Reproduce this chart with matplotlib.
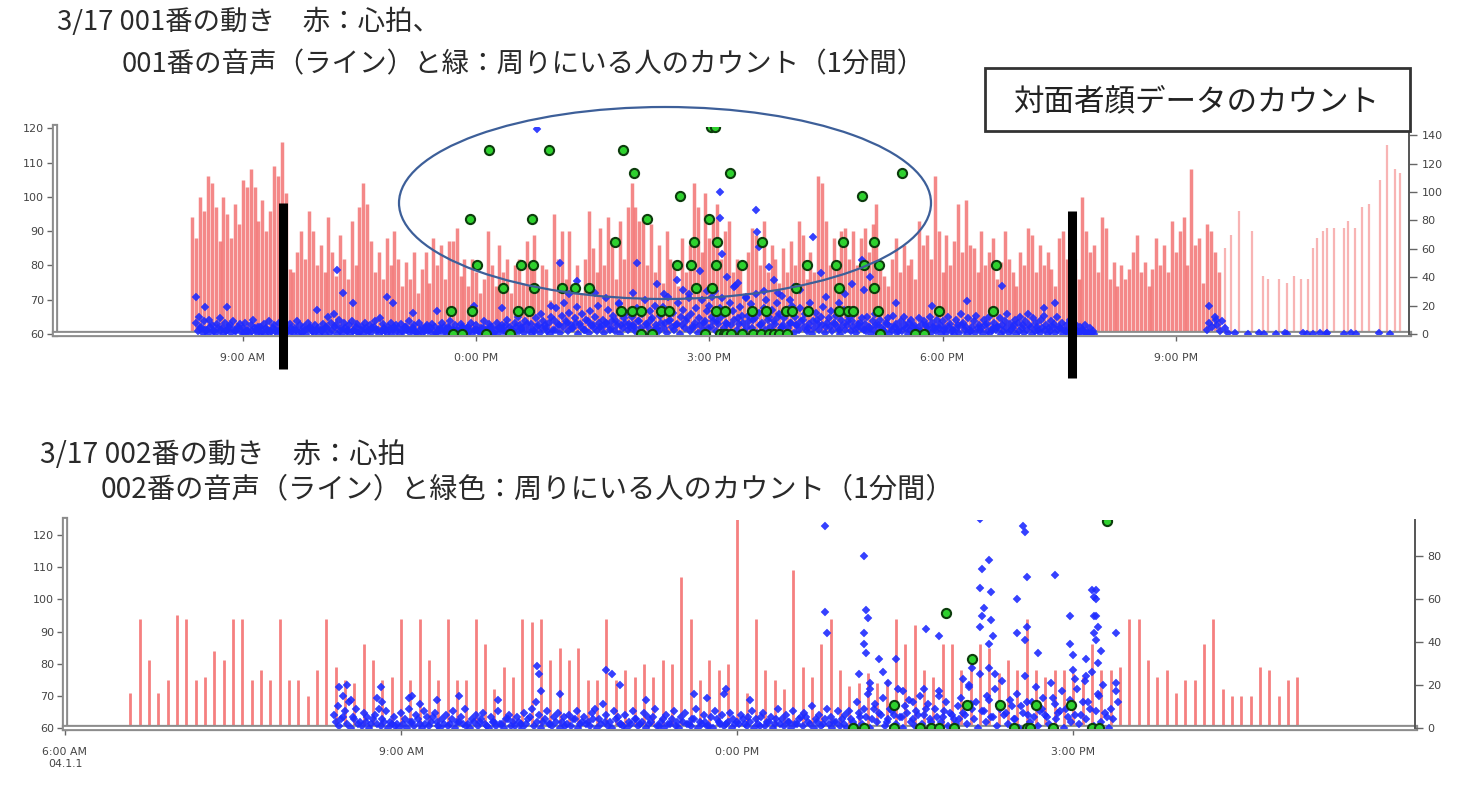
import matplotlib
matplotlib.use("Agg")
import matplotlib.pyplot as plt
import matplotlib.patheffects as pe
import matplotlib.transforms as mtransforms
from matplotlib.patches import Ellipse, Rectangle

plt.rcParams['font.family'] = ['Noto Sans CJK JP', 'DejaVu Sans']

# ---------------- data: chart 1 (001) ----------------
TITLE1_L1 = "3/17 001番の動き　赤：心拍、"
TITLE1_L2 = "001番の音声（ライン）と緑：周りにいる人のカウント（1分間）"
BOX_TEXT = "対面者顔データのカウント"

X1_RANGE = ("06:35", "24:00")
X1_TICKS = ["09:00", "12:00", "15:00", "18:00", "21:00"]
X1_TICKLABELS = ["9:00 AM", "0:00 PM", "3:00 PM", "6:00 PM", "9:00 PM"]
Y1_LEFT_TICKS = [60, 70, 80, 90, 100, 110, 120]
Y1_RIGHT_TICKS = [0, 20, 40, 60, 80, 100, 120, 140]

# heart rate, dense part (one bar every 3 minutes from 08:21)
HR1_START = "08:21"
HR1_STEP_MIN = 3
HR1 = [94, 88, 100, 96, 106, 104, 97, 87, 100, 95, 88, 98, 92, 105, 103, 108, 103, 93, 99, 90,
       96, 109, 106, 116, 101, 79, 78, 84, 90, 82, 96, 90, 80, 86, 78, 94, 84, 77, 89, 82,
       76, 93, 80, 97, 104, 98, 87, 78, 84, 76, 88, 80, 90, 82, 74, 81, 76, 84, 72, 79,
       84, 75, 88, 80, 86, 76, 87, 87, 91, 77, 82, 74, 82, 78, 72, 76, 90, 80, 74, 86,
       78, 82, 72, 80, 82, 75, 87, 80, 89, 74, 80, 79, 70, 95, 82, 90, 76, 90, 74, 80,
       72, 82, 96, 85, 78, 91, 80, 94, 88, 76, 93, 82, 97, 104, 97, 93, 94, 80, 92, 78,
       86, 75, 90, 82, 80, 74, 88, 78, 86, 104, 97, 84, 101, 88, 93, 98, 82, 90, 93, 78,
       82, 79, 72, 84, 91, 89, 80, 93, 78, 86, 82, 75, 85, 78, 87, 80, 93, 89, 76, 84,
       78, 106, 104, 93, 80, 88, 79, 90, 91, 82, 90, 80, 88, 91, 84, 92, 98, 80, 77, 74,
       82, 88, 78, 86, 80, 82, 76, 93, 86, 89, 82, 106, 90, 78, 89, 80, 87, 98, 84, 99,
       86, 85, 78, 90, 80, 84, 88, 76, 81, 90, 82, 78, 74, 84, 80, 91, 89, 78, 86, 80,
       84, 79, 74, 88, 90, 82, 78, 82, 76, 100, 90, 84, 86, 78, 94, 91, 76, 81, 74, 80,
       76, 79, 84, 89, 78, 81, 74, 79, 88, 80, 86, 78, 93, 84, 90, 94, 80, 108, 86, 88,
       75, 92, 90, 84, 78]

# heart rate, sparse late part
HR1_LATE_T = ["21:38", "21:43", "21:49", "21:59", "22:07", "22:11", "22:20", "22:26", "22:31",
              "22:37", "22:42", "22:46", "22:49", "22:54", "22:57", "23:02", "23:10", "23:13",
              "23:18", "23:24", "23:29", "23:38", "23:43", "23:49", "23:53"]
HR1_LATE = [85, 89, 96, 90, 77, 76, 76, 75, 77, 76, 76, 85, 88, 90, 91, 91, 91, 93, 91, 97,
            98, 105, 115, 108, 107]

# voice (blue), dense band: samples every 2 minutes from 08:24 ...
VOICE1_START = "08:24"
VOICE1_STEP_MIN = 2
VOICE1 = [8, 12, 5, 9, 3, 10, 6, 2, 7, 11, 4, 8, 3, 6, 9, 2, 5, 7,
          4, 8, 2, 6, 10, 3, 5, 1, 7, 4, 9, 2, 6, 3, 8, 1, 5, 3, 7, 2, 4, 9, 6, 1, 3, 8, 5, 2, 6, 4,
          3, 7, 5, 12, 8, 14, 6, 10, 4, 8, 2, 6, 9, 3, 7, 1, 5, 8, 2, 6, 4, 9, 3, 11, 7, 2, 5, 8, 3, 6,
          4, 7, 2, 5, 9, 3, 6, 1, 8, 4, 2, 6, 3, 7, 5, 1, 4, 8, 2, 5, 9, 3, 6, 2, 7, 4, 1, 5, 8, 3,
          6, 2, 4, 9, 3, 7, 5, 1, 8, 4, 6, 2, 10, 5, 3, 8, 12, 6, 4, 9, 15, 7, 3, 11, 6, 14, 9, 4, 8, 12,
          10, 18, 6, 13, 22, 8, 15, 4, 11, 19, 7, 14, 3, 9, 16, 6, 12, 20, 5, 10, 8, 17, 4, 13, 9, 21, 6, 11, 15, 7,
          12, 5, 18, 9, 14, 24, 7, 16, 11, 20, 4, 13, 19, 8, 26, 10, 15, 6, 22, 12, 17, 9, 28, 14, 5, 18, 11, 24, 8, 16,
          20, 12, 30, 9, 18, 25, 14, 7, 22, 16, 34, 11, 19, 8, 26, 13, 21, 10, 28, 15, 6, 18, 24, 12, 17, 9, 22, 14, 5, 11,
          16, 8, 20, 12, 6, 18, 10, 14, 4, 22, 9, 15, 7, 12, 19, 5, 11, 16, 8, 13, 3, 10, 17, 6, 12, 9, 14, 4, 8, 11,
          7, 12, 4, 9, 14, 6, 10, 3, 8, 11, 5, 13, 7, 2, 9, 12, 4, 8, 10, 6, 3, 11, 7, 9, 5, 12, 8, 4, 10, 6,
          9, 4, 12, 7, 3, 10, 6, 14, 8, 5, 11, 2, 9, 13, 6, 4, 10, 7, 12, 3, 8, 5, 11, 6, 9, 14, 7, 4, 10, 8,
          12, 6, 9, 14, 5, 11, 8, 3, 10, 13, 6, 4, 9, 7, 12, 5, 8, 3, 6, 10, 4, 7, 2, 5, 3, 6, 1, 4, 2]
# ... and the in-between samples (every 2 minutes from 08:25)
VOICE1_LOW_START = "08:25"
VOICE1_LOW = [2, 4, 1, 3, 0, 5, 2, 1, 4, 3, 0, 2, 5, 1, 3, 2, 4, 1,
              1, 3, 0, 2, 4, 1, 5, 2, 0, 3, 1, 4, 2, 0, 3, 5, 1, 2, 4, 0, 3, 1, 2, 5, 0, 4, 2, 1, 3, 0,
              2, 0, 4, 1, 3, 5, 0, 2, 1, 4, 3, 0, 2, 5, 1, 3, 0, 4, 2, 1, 5, 3, 0, 2, 4, 1, 3, 0, 5, 2,
              0, 2, 5, 3, 1, 4, 2, 0, 3, 1, 5, 2, 4, 0, 1, 3, 2, 5, 0, 4, 1, 2, 3, 0, 5, 1, 4, 2, 0, 3,
              3, 1, 4, 0, 2, 5, 1, 3, 0, 4, 2, 6, 1, 3, 0, 5, 2, 4, 1, 7, 3, 0, 2, 5, 1, 4, 6, 2, 0, 3,
              3, 7, 1, 5, 9, 2, 6, 4, 8, 0, 5, 3, 10, 1, 6, 4, 2, 8, 5, 1, 7, 3, 9, 2, 6, 0, 4, 8, 3, 5,
              6, 2, 9, 4, 1, 7, 5, 10, 3, 6, 2, 8, 4, 1, 9, 5, 3, 7, 0, 6, 4, 11, 2, 5, 8, 1, 6, 3, 9, 4,
              5, 9, 2, 7, 12, 4, 8, 1, 6, 10, 3, 7, 13, 2, 5, 9, 4, 11, 1, 6, 8, 3, 10, 5, 2, 7, 12, 4, 6, 1,
              4, 8, 1, 6, 3, 9, 5, 2, 7, 0, 4, 10, 3, 6, 1, 8, 5, 2, 7, 4, 0, 6, 3, 9, 2, 5, 1, 7, 4, 3,
              2, 5, 0, 3, 6, 1, 4, 2, 7, 0, 3, 5, 1, 4, 2, 6, 0, 3, 5, 1, 4, 2, 0, 6, 3, 1, 5, 2, 4, 0,
              3, 1, 5, 2, 0, 4, 1, 6, 3, 0, 2, 5, 1, 4, 3, 0, 6, 2, 1, 4, 3, 5, 0, 2, 4, 1, 3, 6, 0, 2,
              4, 1, 3, 6, 0, 2, 5, 1, 4, 3, 0, 2, 5, 1, 3, 4, 0, 2, 1, 3, 0, 2, 1, 0, 2, 1, 0, 1, 0]
VOICE1B_START = "21:24"
VOICE1B = [3, 8, 5, 12, 6, 2, 9, 4, 1]
VOICE1_OUT_T = ["08:24", "08:31", "08:48", "09:57", "10:13", "10:17", "10:25", "10:51", "10:56", "11:11",
                "11:30", "11:58", "12:20", "12:47", "12:58", "13:05", "13:12", "13:18", "13:32", "13:40",
                "13:50", "14:01", "14:04", "14:20", "14:25", "14:35", "14:40", "14:44", "14:53", "14:58",
                "15:02", "15:08", "15:08", "15:10", "15:14", "15:19", "15:22", "15:28", "15:36", "15:37",
                "15:38", "15:42", "15:46", "15:50", "15:53", "15:56", "16:02", "16:05", "16:10", "16:16",
                "16:20", "16:26", "16:30", "16:40", "16:45", "16:50", "16:58", "16:59", "17:04", "17:24",
                "17:52", "18:19", "18:46", "19:18", "19:27", "21:26", "21:31"]
VOICE1_OUT = [26, 19, 19, 17, 45, 29, 22, 26, 22, 15,
              16, 20, 18, 144, 20, 50, 28, 37, 29, 25,
              22, 29, 50, 35, 28, 38, 31, 25, 44, 30,
              26, 100, 82, 56, 40, 33, 36, 25, 87, 72,
              61, 30, 47, 38, 29, 27, 24, 33, 31, 47,
              68, 43, 26, 22, 28, 35, 52, 31, 40, 22,
              20, 23, 34, 18, 22, 20, 10]
VOICE1_LATE_T = ["21:46", "21:56", "22:04", "22:08", "22:17", "22:24", "22:26", "22:38", "22:41",
                 "22:46", "22:51", "22:56", "22:57", "23:10", "23:15", "23:19", "23:37", "23:45"]
VOICE1_LATE = [1, 0, 1, 0, 0, 1, 0, 1, 0, 0, 1, 0, 1, 0, 1, 0, 1, 0]

# green: number of people around (per minute)
FACE1_T = ["11:42", "11:49", "12:08", "12:26", "14:07", "14:16", "14:57", "15:08", "15:11", "15:13",
           "15:17", "15:25", "15:34", "15:40", "15:46", "15:50", "15:54", "16:00", "17:12", "17:39", "17:46",
           "11:41", "11:57", "12:32", "12:41", "13:52", "14:00", "14:07", "14:23", "14:29", "15:05", "15:12",
           "15:33", "15:44", "15:59", "16:04", "16:16", "16:40", "16:47", "16:51", "17:10", "17:57", "18:39",
           "12:21", "12:45", "13:06", "13:16", "13:27", "14:50", "15:02", "16:07", "16:40", "17:07",
           "12:01", "12:35", "12:44", "14:35", "14:46", "15:05", "15:25", "16:15", "16:38", "16:59", "17:11", "18:41",
           "13:47", "14:48", "15:06", "15:41", "16:43", "17:07",
           "11:55", "12:43", "14:12", "15:00",
           "14:37", "16:58",
           "14:02", "15:16", "17:29",
           "12:10", "12:56", "13:53",
           "15:01", "15:04"]
FACE1 = [0] * 21 + [1] * 22 + [2] * 10 + [3] * 12 + [4] * 6 + [5] * 4 + [6] * 2 + [7] * 3 + [8] * 3 + [9] * 2

MARK1_T = ["09:31", "19:40"]

# ---------------- data: chart 2 (002) ----------------
TITLE2_L1 = "3/17 002番の動き　赤：心拍"
TITLE2_L2 = "002番の音声（ライン）と緑色：周りにいる人のカウント（1分間）"

X2_RANGE = ("06:00", "18:03")
X2_TICKS = ["06:00", "09:00", "12:00", "15:00"]
X2_TICKLABELS = ["6:00 AM\n04.1.1", "9:00 AM", "0:00 PM", "3:00 PM"]
Y2_LEFT_TICKS = [60, 70, 80, 90, 100, 110, 120]
Y2_RIGHT_TICKS = [0, 20, 40, 60, 80]

HR2_START = "06:35"
HR2_STEP_MIN = 5
HR2 = [71, 94, 81, 71, 75, 95, 94, 75, 76, 84, 81, 94, 94, 75, 78, 75, 94, 75, 75, 70,
       78, 94, 79, 75, 74, 86, 81, 75, 76, 94, 75, 94, 81, 75, 94, 75, 75, 94, 86, 72,
       79, 76, 94, 93, 94, 81, 85, 81, 85, 75, 75, 94, 75, 78, 76, 80, 76, 81, 80, 107,
       94, 75, 81, 78, 80, 125,
       71, 94, 78, 75, 72, 109, 79, 76, 86, 94, 78, 73, 74, 77, 74, 75, 94, 86, 92, 78,
       76, 86, 86, 78, 80, 86, 85, 77, 81, 78, 94, 78, 76, 78, 78, 77, 76, 86, 78, 78,
       79, 94,
       94, 81, 76, 78, 71, 75, 75, 86, 94, 72, 70, 70, 70, 79, 78, 70, 75, 76]

VOICE2_START = "08:24"
VOICE2_STEP_MIN = 2
VOICE2 = [6, 10, 4, 8, 12, 5, 9, 3, 7, 5, 2, 6, 9, 4, 8, 3, 5, 2,
          7, 4, 9, 3, 6, 2, 8, 5, 3, 7, 1, 4, 6, 2, 8, 3, 5, 9, 2, 4, 6, 3, 7, 1, 5, 3, 8, 2, 4, 6,
          3, 5, 2, 7, 4, 9, 12, 6, 3, 8, 2, 5, 7, 3, 1, 6, 4, 8, 2, 5, 3, 7, 9, 4, 11, 6, 3, 8, 5, 2,
          6, 3, 8, 4, 2, 7, 5, 3, 9, 1, 4, 6, 2, 8, 3, 5, 7, 2, 4, 9, 3, 6, 1, 5, 8, 3, 6, 2, 7, 4,
          3, 6, 2, 5, 8, 4, 1, 7, 3, 5, 2, 9, 4, 6, 3, 8, 2, 5, 7, 3, 10, 4, 6, 2, 9, 5, 3, 8, 4, 6,
          8, 3, 12, 5, 9, 16, 4, 11, 7, 14, 3, 9, 6, 18, 5, 10, 13, 4, 8, 15, 6, 11, 3, 9, 17, 5, 12, 7, 4, 10,
          14, 6, 20, 9, 12, 25, 8, 15, 5, 18, 11, 22, 7, 13, 4, 16, 10, 24, 6, 12, 19, 8, 14, 5, 21, 11, 7, 17, 9, 13,
          10, 18, 6, 22, 12, 26, 8, 15, 20, 5, 9]
VOICE2_LOW_START = "08:25"
VOICE2_LOW = [3, 1, 5, 2, 0, 4, 2, 1, 3, 0, 4, 2, 1, 3, 0, 2, 1, 0,
              2, 0, 3, 1, 4, 0, 2, 1, 5, 3, 0, 2, 1, 4, 0, 3, 2, 1, 0, 3, 1, 4, 2, 0, 3, 1, 2, 0, 4, 1,
              1, 3, 0, 2, 5, 1, 3, 0, 4, 2, 1, 3, 0, 5, 2, 1, 4, 0, 3, 2, 1, 4, 0, 2, 3, 1, 0, 4, 2, 1,
              0, 2, 4, 1, 3, 0, 2, 5, 1, 3, 0, 2, 4, 1, 0, 3, 2, 1, 4, 0, 2, 3, 1, 0, 4, 2, 1, 3, 0, 2,
              2, 4, 1, 3, 0, 2, 5, 1, 3, 0, 4, 2, 1, 3, 0, 2, 4, 1, 5, 2, 0, 3, 1, 4, 2, 0, 3, 1, 2, 0,
              4, 1, 7, 2, 5, 0, 9, 3, 6, 1, 4, 8, 2, 5, 0, 7, 3, 1, 6, 2, 9, 4, 0, 5, 3, 8, 1, 6, 2, 4,
              7, 2, 11, 4, 0, 8, 3, 13, 5, 1, 9, 6, 2, 10, 4, 0, 7, 12, 3, 5, 1, 9, 6, 2, 14, 4, 8, 0, 5, 3,
              6, 2, 12, 4, 9, 1, 16, 3, 7, 0, 4]
VOICE2_OUT_T = ["08:27", "08:29", "08:31", "08:33", "08:47", "08:49", "08:50", "09:04", "09:06", "09:10",
                "09:19", "09:31", "09:52", "10:13", "10:14", "10:15", "10:25", "10:50", "10:53", "10:57",
                "11:11", "11:37", "11:44", "11:53", "11:54", "12:07", "12:47", "12:47", "12:48",
                "13:08", "13:09", "13:10", "13:08", "13:08", "13:09", "13:05", "13:11", "13:11",
                "13:16", "13:18", "13:21", "13:25", "13:29", "13:34", "13:41", "13:40", "13:48", "13:48",
                "14:01", "14:06", "14:04", "14:10", "14:11", "14:10", "14:12", "14:11", "14:10",
                "14:15", "14:16", "14:16", "14:17", "14:15", "14:15", "14:18",
                "14:30", "14:33", "14:34", "14:35", "14:35", "14:34", "14:30", "14:41",
                "14:50", "14:58", "14:58", "15:00", "15:00", "15:01",
                "15:10", "15:11", "15:11", "15:12", "15:12", "15:12", "15:13", "15:11", "15:12",
                "15:15", "15:13", "15:23", "15:23", "15:23", "15:24", "15:07", "15:07"]
VOICE2_OUT = [19, 15, 20, 13, 14, 19, 12, 14, 15, 11,
              13, 15, 13, 29, 25, 17, 16, 27, 25, 20,
              13, 16, 14, 16, 18, 13, 94, 54, 44,
              80, 55, 51, 44, 39, 35, 25, 21, 18,
              32, 26, 21, 32, 17, 12, 46, 18, 43, 15,
              23, 28, 19, 97, 74, 65, 56, 52, 47,
              78, 63, 50, 43, 39, 28, 25,
              60, 94, 91, 70, 47, 41, 44, 35,
              71, 52, 39, 34, 27, 23,
              64, 61, 52, 64, 60, 52, 47, 44, 41,
              36, 30, 44, 21, 17, 12, 32, 24]

FACE2_T = ["13:02", "13:08", "13:24", "13:38", "13:44", "13:48", "13:56", "14:28", "14:35", "14:37",
           "14:49", "15:10", "15:14",
           "13:24", "14:03", "14:21", "14:40", "14:59",
           "14:06", "13:52", "15:18"]
FACE2 = [0] * 13 + [1] * 5 + [3, 5, 9]

# ---------------- helpers ----------------
W, H = 1457, 785


def hrs(s):
    h, m = s.split(":")
    return int(h) + int(m) / 60.0


def grid(start, step_min, n):
    t0 = hrs(start)
    return [t0 + i * step_min / 60.0 for i in range(n)]


def fx(px):
    return px / W


def fy(py):
    return 1 - py / H


fig = plt.figure(figsize=(W / 100, H / 100), dpi=100)
fig.patch.set_facecolor("white")

RED = "#f15a5a"
RED_LIGHT = "#f8b4b4"
BLUE = "#1f2cff"
GREEN_FC = "#2ed12e"
GREEN_EC = "#0d3d0d"
TICKC = "#444444"
SPINE_FX = [pe.Stroke(linewidth=4.5, foreground="#8c8c8c"), pe.Stroke(linewidth=1.6, foreground="white")]


def style_axes(ax, axr, axg, xr, xticks, xlabels, yl, yt, yr, yrt, gtop):
    ax.set_xlim(hrs(xr[0]), hrs(xr[1]))
    ax.set_ylim(*yl)
    axr.set_ylim(*yr)
    axg.set_ylim(0, gtop)
    ax.set_xticks([hrs(t) for t in xticks])
    ax.set_xticklabels(xlabels)
    ax.set_yticks(yt)
    axr.set_yticks(yrt)
    axg.set_yticks([])
    for s in ("top", "right"):
        ax.spines[s].set_visible(False)
    for s in ("left", "bottom"):
        ax.spines[s].set_path_effects(SPINE_FX)
    for s in ("top", "left", "bottom"):
        axr.spines[s].set_visible(False)
    axr.spines["right"].set_color("#555555")
    axr.spines["right"].set_linewidth(1.4)
    for s in axg.spines.values():
        s.set_visible(False)
    ax.tick_params(axis="y", direction="out", length=6, width=1, color="#666666",
                   labelsize=8, labelcolor=TICKC, pad=2, labelfontfamily="DejaVu Sans")
    ax.tick_params(axis="x", direction="out", length=5, width=1, color="#666666",
                   labelsize=7.8, labelcolor=TICKC, pad=9, labelfontfamily="DejaVu Sans")
    axr.tick_params(axis="y", direction="out", length=6, width=1, color="#666666",
                    labelsize=8, labelcolor=TICKC, pad=3, labelfontfamily="DejaVu Sans")
    for a in (ax, axr, axg):
        a.patch.set_visible(False)


# ---------------- chart 1 ----------------
ax1 = fig.add_axes([fx(55), fy(334), fx(1409) - fx(55), fy(127) - fy(334)])
ax1r = ax1.twinx()
ax1g = ax1.twinx()
style_axes(ax1, ax1r, ax1g, X1_RANGE, X1_TICKS, X1_TICKLABELS, (60, 120.35), Y1_LEFT_TICKS,
           (0, 145.7), Y1_RIGHT_TICKS, 9.0)

t_hr1 = grid(HR1_START, HR1_STEP_MIN, len(HR1))
ax1.vlines(t_hr1, 60, HR1, colors=RED, lw=2.5, alpha=0.72)
ax1.vlines([hrs(t) for t in HR1_LATE_T], 60, HR1_LATE, colors=RED_LIGHT, lw=1.6)

kw_b = dict(ls="none", marker="D", ms=4.0, color=BLUE, mec=BLUE, mew=0.3, alpha=0.9)
ax1r.plot(grid(VOICE1_START, VOICE1_STEP_MIN, len(VOICE1)), VOICE1, **kw_b)
ax1r.plot(grid(VOICE1_LOW_START, VOICE1_STEP_MIN, len(VOICE1_LOW)), VOICE1_LOW, **kw_b)
ax1r.plot(grid(VOICE1B_START, VOICE1_STEP_MIN, len(VOICE1B)), VOICE1B, **kw_b)
ax1r.plot([hrs(t) for t in VOICE1_OUT_T], VOICE1_OUT, **kw_b)
ax1r.plot([hrs(t) for t in VOICE1_LATE_T], VOICE1_LATE, **kw_b)

kw_g = dict(ls="none", marker="o", ms=6.6, mfc=GREEN_FC, mec=GREEN_EC, mew=1.5)
ax1g.plot([hrs(t) for t in FACE1_T], FACE1, **kw_g)

# black time markers
trans1 = mtransforms.blended_transform_factory(ax1g.transData, ax1g.transAxes)
ax1g.plot([hrs(MARK1_T[0])] * 2, [-0.169, 0.633], transform=trans1, color="black",
          lw=6.5, solid_capstyle="butt", clip_on=False)
ax1g.plot([hrs(MARK1_T[1])] * 2, [-0.213, 0.594], transform=trans1, color="black",
          lw=6.5, solid_capstyle="butt", clip_on=False)

# ellipse highlight
fig.patches.append(Ellipse((fx(665), fy(203)), 532 / W, 192 / H, transform=fig.transFigure,
                           fill=False, ec="#3d5f99", lw=1.6, zorder=5))

# box label
fig.patches.append(Rectangle((fx(985), fy(131)), 425 / W, 63 / H, transform=fig.transFigure,
                             fc="white", ec="#333333", lw=2.0, zorder=5))
fig.text(fx(1196), fy(102), BOX_TEXT, ha="center", va="center", fontsize=22, color="#222222",
         zorder=6, family=["Noto Sans CJK JP", "DejaVu Sans"])

# titles
fig.text(fx(57), fy(22), TITLE1_L1, ha="left", va="center", fontsize=19.8, color="#2a2a2a")
fig.text(fx(122), fy(65), TITLE1_L2, ha="left", va="center", fontsize=19.8, color="#2a2a2a")

# ---------------- chart 2 ----------------
ax2 = fig.add_axes([fx(65), fy(728), fx(1415) - fx(65), fy(520) - fy(728)])
ax2r = ax2.twinx()
ax2g = ax2.twinx()
style_axes(ax2, ax2r, ax2g, X2_RANGE, X2_TICKS, X2_TICKLABELS, (60, 124.7), Y2_LEFT_TICKS,
           (0, 96.7), Y2_RIGHT_TICKS, 9.04)

ax2.vlines(grid(HR2_START, HR2_STEP_MIN, len(HR2)), 60, HR2, colors="#f58080", lw=2.0)

ax2r.plot(grid(VOICE2_START, VOICE2_STEP_MIN, len(VOICE2)), VOICE2, **kw_b)
ax2r.plot(grid(VOICE2_LOW_START, VOICE2_STEP_MIN, len(VOICE2_LOW)), VOICE2_LOW, **kw_b)
ax2r.plot([hrs(t) for t in VOICE2_OUT_T], VOICE2_OUT, **kw_b)
ax2g.plot([hrs(t) for t in FACE2_T], FACE2, **kw_g)

fig.text(fx(40), fy(455), TITLE2_L1, ha="left", va="center", fontsize=20.3, color="#2a2a2a")
fig.text(fx(101), fy(489), TITLE2_L2, ha="left", va="center", fontsize=20.3, color="#2a2a2a")

fig.savefig("out.png", dpi=100, facecolor="white")
